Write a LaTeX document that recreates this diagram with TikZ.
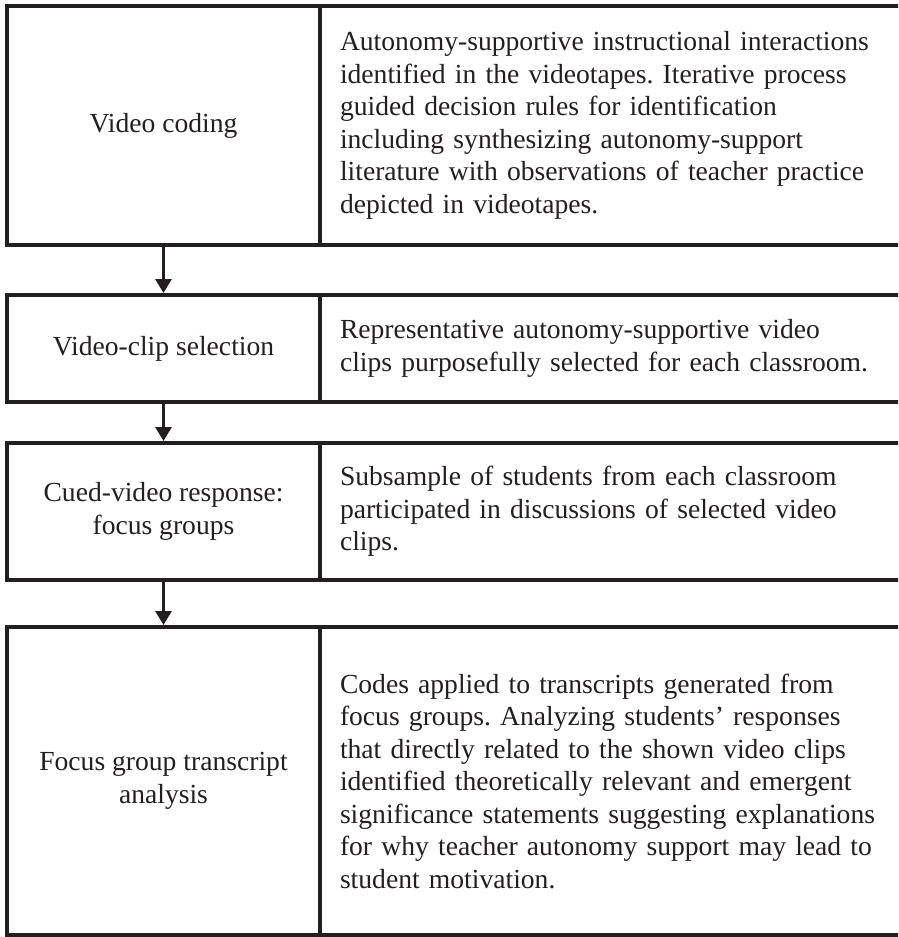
\documentclass[tikz,border=0pt]{standalone}
\usepackage{fontspec}
\setmainfont{Liberation Serif}
\usetikzlibrary{arrows.meta}
\definecolor{ink}{HTML}{231F20}
\frenchspacing

\begin{document}
\begin{tikzpicture}[x=1pt, y=-1pt]
  \tikzstyle{stage box} = [draw=ink, line width=4pt, text=ink, outer sep=0pt, inner sep=0pt,
    minimum width=313pt, align=center, font=\fontsize{27.6}{32.5}\selectfont]
  \tikzstyle{detail box} = [draw=ink, line width=4pt, text=ink, outer sep=0pt, anchor=west,
    text width=560pt, inner xsep=20pt, inner ysep=0pt, align=left, font=\fontsize{27.6}{32.5}\selectfont]
  \tikzstyle{flow arrow} = [draw=ink, line width=3pt, shorten >=2pt, shorten <=2pt,
    -{Triangle[width=16pt, length=14pt]}]
  \useasboundingbox (0,0) rectangle (898,937);
  \clip (0,0) rectangle (898,937);
  % left column: stages
  \node[stage box, minimum height=239pt] (coding) at (163.5,125.5) {Video coding};
  \node[stage box, minimum height=107pt] (selection) at (163.5,348.5) {Video-clip selection};
  \node[stage box, minimum height=137pt] (response) at (163.5,511.5) {Cued-video response:\\focus groups};
  \node[stage box, minimum height=308pt] (analysis) at (163.5,781) {Focus group transcript\\analysis};
  % right column: descriptions
  \node[detail box, minimum height=239pt] (codingtext) at (coding.east)
    {Autonomy-supportive instructional interactions\\identified in the videotapes. Iterative process\\guided decision rules for identification\\including synthesizing autonomy-support\\literature with observations of teacher practice\\depicted in videotapes.};
  \node[detail box, minimum height=107pt] (selectiontext) at (selection.east)
    {Representative autonomy-supportive video\\clips purposefully selected for each classroom.};
  \node[detail box, minimum height=137pt] (responsetext) at (response.east)
    {Subsample of students from each classroom\\participated in discussions of selected video\\clips.};
  \node[detail box, minimum height=308pt] (analysistext) at (analysis.east)
    {Codes applied to transcripts generated from\\focus groups. Analyzing students' responses\\that directly related to the shown video clips\\identified theoretically relevant and emergent\\significance statements suggesting explanations\\for why teacher autonomy support may lead to\\student motivation.};
  % arrows
  \draw[flow arrow] (coding) -- (selection);
  \draw[flow arrow] (selection) -- (response);
  \draw[flow arrow] (response) -- (analysis);
\end{tikzpicture}
\end{document}
